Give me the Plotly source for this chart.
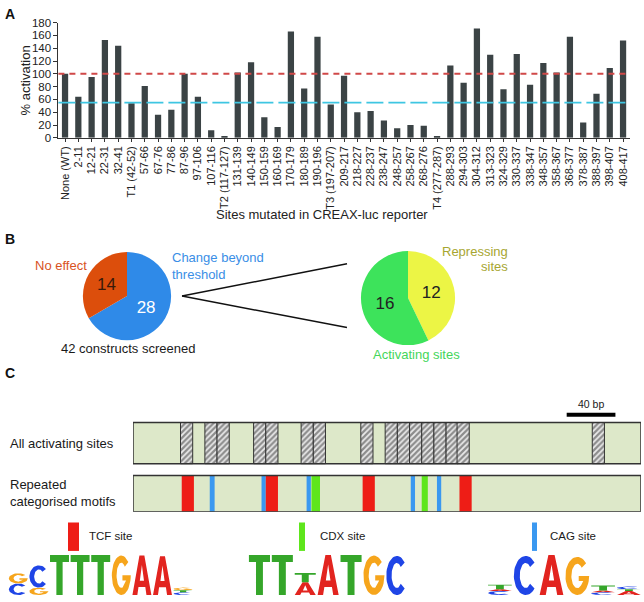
import plotly.graph_objects as go
import numpy as np

# ---------------- DATA ----------------
sites = ["None (WT)", "2-11", "12-21", "22-31", "32-41", "T1 (42-52)", "57-66", "67-76", "77-86",
         "87-96", "97-106", "107-116", "T2 (117-127)", "131-139", "140-149", "150-159", "160-169",
         "170-179", "180-189", "190-196", "T3 (197-207)", "209-217", "218-227", "228-237", "238-247",
         "248-257", "258-267", "268-276", "T4 (277-287)", "288-293", "294-303", "304-312", "313-323",
         "324-329", "330-337", "338-347", "348-357", "358-367", "368-377", "378-387", "388-397",
         "398-407", "408-417"]
activation = [100, 64, 95, 153, 144, 54, 81, 36, 44, 100, 64, 12, 3, 102, 118, 32, 17, 166, 77,
              158, 52, 97, 40, 42, 27, 15, 20, 19, 3, 113, 86, 171, 130, 76, 131, 83, 117, 102,
              158, 24, 69, 109, 152]
wt_level = 100
threshold_level = 55

screen_labels = ["Change beyond threshold", "No effect"]
screen_counts = [28, 14]
change_labels = ["Repressing sites", "Activating sites"]
change_counts = [12, 16]

construct_length = 417
activating_starts = [39, 59, 69, 99, 109, 138, 148, 187, 207, 217, 227, 237, 247, 257, 266, 377]
activating_widths = [10] * 16
motif_types = ["TCF", "CAG", "CAG", "TCF", "CAG", "CDX", "TCF", "CAG", "CDX", "CAG", "TCF"]
motif_starts = [40, 63, 105.5, 109, 142.5, 146.5, 188.5, 228, 237, 249.5, 268]
motif_widths = [10, 4, 3.5, 10, 3.5, 7, 10, 3.5, 5, 3.5, 10]
scale_bp = 40

# sequence logos: each position = list of (letter, bits) bottom -> top
logo_tcf = [[("C", 0.56), ("G", 0.5)], [("G", 0.36), ("C", 1.08)], [("T", 1.95)], [("T", 1.95)],
            [("T", 1.95)], [("G", 1.92)], [("A", 1.92)], [("A", 1.88)],
            [("C", 0.13), ("T", 0.1), ("G", 0.13)]]
logo_cdx = [[("T", 1.95)], [("T", 1.95)], [("A", 0.62), ("T", 0.45)], [("A", 1.95)],
            [("T", 1.95)], [("G", 1.92)], [("C", 1.9)]]
logo_cag = [[("C", 0.2), ("A", 0.08), ("T", 0.22)], [("C", 1.9)], [("A", 1.95)], [("G", 1.85)],
            [("C", 0.14), ("A", 0.08), ("T", 0.24)], [("A", 0.2), ("T", 0.08), ("C", 0.14)]]

# ---------------- STYLE ----------------
FONT = "Liberation Sans, Arial, Helvetica, sans-serif"
W, H = 644, 602
bar_color = "#3B4345"
motif_colors = {"TCF": "#EE1D16", "CDX": "#5EE61C", "CAG": "#3A98F0"}
letter_colors = {"A": "#E2241F", "C": "#1F45E6", "G": "#F6A51C", "T": "#35A62A"}
box_fill = "#DDE8C9"


def px(x):
    return x / W


def py(y):
    return 1 - y / H


fig = go.Figure()

# ---------------- PANEL A ----------------
fig.add_trace(go.Bar(x=sites, y=activation, marker=dict(color=bar_color, line=dict(width=0)),
                     width=0.47, xaxis="x", yaxis="y", hoverinfo="x+y"))

fig.add_shape(type="line", xref="x domain", yref="y", x0=0, x1=1, y0=wt_level, y1=wt_level,
              line=dict(color="#D04848", width=2, dash="6px,5px"), layer="above")
fig.add_shape(type="line", xref="x domain", yref="y", x0=0, x1=1, y0=threshold_level, y1=threshold_level,
              line=dict(color="#3EC6E2", width=1.6, dash="17px,5px"), layer="above")

# ---------------- PANEL B ----------------
fig.add_trace(go.Pie(labels=screen_labels, values=screen_counts, sort=False, direction="counterclockwise",
                     rotation=0, marker=dict(colors=["#2F8AE8", "#DC4E0C"], line=dict(width=0)),
                     textinfo="value", textposition="inside", insidetextorientation="horizontal",
                     textfont=dict(size=17, color=["white", "#3a1a0a"], family=FONT),
                     domain=dict(x=[px(82), px(172)], y=[py(341), py(251)]), hoverinfo="label+value"))
fig.add_trace(go.Pie(labels=change_labels, values=change_counts, sort=False, direction="clockwise",
                     rotation=0, marker=dict(colors=["#ECF545", "#3DE35B"], line=dict(width=0)),
                     textinfo="value", textposition="inside", insidetextorientation="horizontal",
                     textfont=dict(size=17, color=["#222222", "#222222"], family=FONT),
                     domain=dict(x=[px(360), px(456)], y=[py(346), py(250)]), hoverinfo="label+value"))

for y_end in (263, 328):
    fig.add_shape(type="line", xref="paper", yref="paper", x0=px(182), y0=py(296), x1=px(347), y1=py(y_end),
                  line=dict(color="#111111", width=1.5))

# ---------------- PANEL C ----------------
row1 = (49, 91)
row2 = (0, 37)
for (y0, y1) in (row1, row2):
    fig.add_shape(type="rect", xref="x3", yref="y3", x0=0, x1=construct_length, y0=y0, y1=y1,
                  fillcolor=box_fill, line=dict(width=0), layer="below")
fig.add_trace(go.Bar(orientation="h", base=activating_starts, x=activating_widths,
                     y=[(row1[0] + row1[1]) / 2] * len(activating_starts), width=row1[1] - row1[0],
                     marker=dict(color=box_fill, line=dict(color="#333333", width=1),
                                 pattern=dict(shape="/", fgcolor="#2e2e2e", bgcolor="#EAEAEA",
                                              size=4, solidity=0.55)),
                     xaxis="x3", yaxis="y3", hoverinfo="skip"))
fig.add_trace(go.Bar(orientation="h", base=motif_starts, x=motif_widths,
                     y=[(row2[0] + row2[1]) / 2] * len(motif_starts), width=row2[1] - row2[0],
                     marker=dict(color=[motif_colors[m] for m in motif_types], line=dict(width=0)),
                     xaxis="x3", yaxis="y3", hovertext=motif_types, hoverinfo="text"))
for (y0, y1) in (row1, row2):
    fig.add_shape(type="rect", xref="x3", yref="y3", x0=0, x1=construct_length, y0=y0, y1=y1,
                  fillcolor="rgba(0,0,0,0)", line=dict(color="#333333", width=1.5), layer="above")

# scale bar
fig.add_shape(type="line", xref="x3", yref="y3", x0=356, x1=356 + scale_bp, y0=99, y1=99,
              line=dict(color="black", width=4))

# motif legend bars
for (x0, x1, col) in ((68, 79, motif_colors["TCF"]), (299, 305, motif_colors["CDX"]),
                      (532, 537, motif_colors["CAG"])):
    fig.add_shape(type="rect", xref="paper", yref="paper", x0=px(x0), x1=px(x1), y0=py(556), y1=py(527),
                  fillcolor=col, line=dict(width=0))


# ---------------- LOGOS ----------------
def ell(rx, ry, a0, a1, n=40):
    t = np.radians(np.linspace(a0, a1, n))
    return list(0.5 + rx * np.cos(t)), list(0.5 + ry * np.sin(t))


def glyph(letter):
    if letter == "T":
        return [0, 1, 1, 0.665, 0.665, 0.335, 0.335, 0], [1, 1, 0.82, 0.82, 0, 0, 0.82, 0.82]
    if letter == "A":
        return ([0, 0.26, 0.32, 0.68, 0.74, 1, 0.63, 0.37], [0, 0, 0.2, 0.2, 0, 0, 1, 1])
    if letter == "C":
        ox, oy = ell(0.5, 0.5, 42, 318)
        ix, iy = ell(0.25, 0.32, 318, 42)
        return ox + ix, oy + iy
    if letter == "G":
        ox, oy = ell(0.5, 0.5, 42, 360)
        ix, iy = ell(0.25, 0.32, 330, 42)
        return ox + [0.56, 0.56, 0.75] + ix, oy + [0.5, 0.37, 0.37] + iy
    return [], []


def counter_A():
    return [0.39, 0.61, 0.5], [0.36, 0.36, 0.76]


def add_logo(logo, x_start, col_w):
    polys = {k: ([], []) for k in letter_colors}
    white = ([], [])
    for i, stack in enumerate(logo):
        base = 0.0
        xl = x_start + i * col_w + col_w * 0.04
        lw = col_w * 0.92
        for letter, h in stack:
            gx, gy = glyph(letter)
            polys[letter][0].extend([xl + v * lw for v in gx] + [None])
            polys[letter][1].extend([base + v * h for v in gy] + [None])
            if letter == "A":
                cx, cy = counter_A()
                white[0].extend([xl + v * lw for v in cx] + [None])
                white[1].extend([base + v * h for v in cy] + [None])
            base += h
    for k, (xs, ys) in polys.items():
        if xs:
            fig.add_trace(go.Scatter(x=xs, y=ys, mode="lines", fill="toself", fillcolor=letter_colors[k],
                                     line=dict(width=0, color=letter_colors[k]), xaxis="x4", yaxis="y4",
                                     hoverinfo="skip", cliponaxis=False))
    if white[0]:
        fig.add_trace(go.Scatter(x=white[0], y=white[1], mode="lines", fill="toself", fillcolor="white",
                                 line=dict(width=0, color="white"), xaxis="x4", yaxis="y4",
                                 hoverinfo="skip", cliponaxis=False))


add_logo(logo_tcf, 8, 20.6)
add_logo(logo_cdx, 248, 22.9)
add_logo(logo_cag, 487, 25.8)


# ---------------- ANNOTATIONS ----------------
def txt(x, y, s, size=12.5, color="#1a1a1a", xanchor="left", bold=False, angle=0):
    fig.add_annotation(x=px(x), y=py(y), xref="paper", yref="paper", text=("<b>%s</b>" % s) if bold else s,
                       showarrow=False, xanchor=xanchor, yanchor="middle", textangle=angle,
                       font=dict(size=size, color=color, family=FONT))


txt(3, 8, "A", 14, "#111", bold=True)
txt(3, 238, "B", 14, "#111", bold=True)
txt(3, 374, "C", 14, "#111", bold=True)
txt(25, 76, "% activation", 13, "#222", xanchor="center", angle=-90)
txt(322, 213, "Sites mutated in CREAX-luc reporter", 13, "#222", xanchor="center")
txt(33, 265, "No effect", 13, "#D9531E")
txt(170, 257, "Change beyond", 13, "#3A8EE6")
txt(170, 274, "threshold", 13, "#3A8EE6")
txt(59, 349, "42 constructs screened", 13, "#1a1a1a")
txt(510, 250, "Repressing", 13, "#A7A631", xanchor="right")
txt(510, 266, "sites", 13, "#A7A631", xanchor="right")
txt(371, 356, "Activating sites", 13, "#44D65A")
txt(8, 446, "All activating sites", 13)
txt(8, 488, "Repeated", 13)
txt(8, 506, "categorised motifs", 13)
txt(87, 541, "TCF site", 11.5)
txt(318, 541, "CDX site", 11.5)
txt(548, 541, "CAG site", 11.5)
fig.add_annotation(x=356 + scale_bp / 2, y=110, xref="x3", yref="y3", text="%d bp" % scale_bp, showarrow=False,
                   font=dict(size=10.5, color="#1a1a1a", family=FONT), yanchor="middle")

# ---------------- LAYOUT ----------------
n = len(sites)
fig.update_layout(
    width=W, height=H, margin=dict(l=0, r=0, t=0, b=0, pad=0),
    paper_bgcolor="white", plot_bgcolor="rgba(0,0,0,0)", showlegend=False, barmode="overlay",
    font=dict(family=FONT, color="#222"),
    xaxis=dict(domain=[px(58.4), px(629.7)], type="category", range=[-0.5, n - 0.5], tickangle=-90,
               ticks="outside", ticklen=3, tickcolor="#333", showline=True, linecolor="#333", linewidth=1,
               showgrid=False, zeroline=False, tickfont=dict(size=11, color="#222"), anchor="y", fixedrange=True),
    yaxis=dict(domain=[py(134.5), py(17)], range=[0, 180], dtick=20, ticks="outside", ticklen=4,
               tickcolor="#333", showline=True, linecolor="#333", linewidth=1, showgrid=False, zeroline=False,
               tickfont=dict(size=11.5, color="#222"), anchor="x", fixedrange=True),
    xaxis3=dict(domain=[px(133), px(641)], range=[0, construct_length], visible=False, anchor="y3"),
    yaxis3=dict(domain=[py(516), py(404)], range=[0, 112], visible=False, anchor="x3"),
    xaxis4=dict(domain=[0, 1], range=[0, W], visible=False, anchor="y4"),
    yaxis4=dict(domain=[py(601), py(559)], range=[0, 2], visible=False, anchor="x4"),
)

fig.write_html("out.html", config={"displayModeBar": False},
               post_script="document.body.style.margin='0';document.body.style.padding='0';")
